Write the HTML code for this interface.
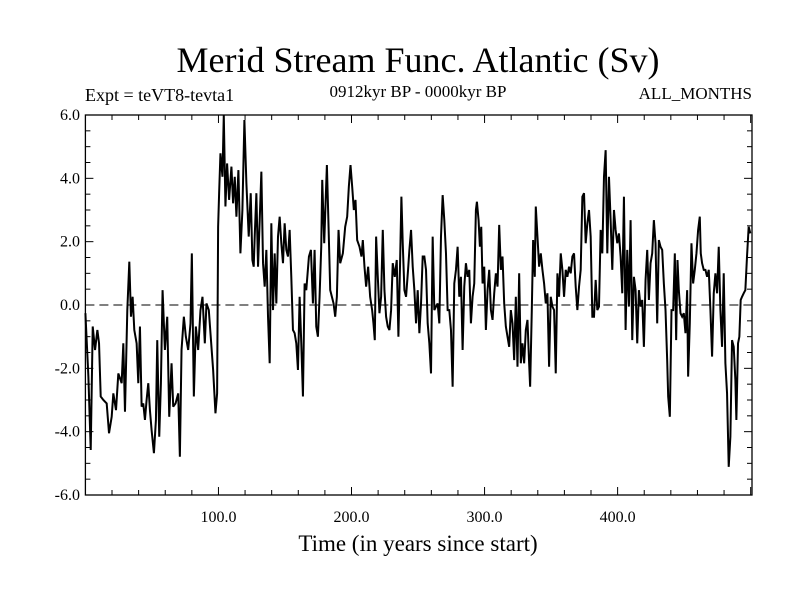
<!DOCTYPE html>
<html><head><meta charset="utf-8"><style>
body{margin:0;background:#fff;}
svg{display:block;font-family:"Liberation Serif","DejaVu Serif",serif;}
</style></head><body>
<svg id="chart" width="800" height="600" viewBox="0 0 800 600">
<rect width="800" height="600" fill="#fff"/>
<text x="418" y="72" font-size="36" text-anchor="middle">Merid Stream Func. Atlantic (Sv)</text>
<text x="85" y="101" font-size="18">Expt = teVT8-tevta1</text>
<text x="418" y="97" font-size="17" text-anchor="middle">0912kyr BP - 0000kyr BP</text>
<text x="752" y="99" font-size="17" text-anchor="end">ALL_MONTHS</text>
<text x="418" y="551" font-size="23" text-anchor="middle">Time (in years since start)</text>
<g id="axes"></g>
<g id="series"></g>
<rect x="85.4" y="115" width="666.6" height="380" fill="none" stroke="#000" stroke-width="1.3"/>
</svg>
<script>
const years=[0,2.25,4,5.5,7.25,9,10.25,11.5,13.5,16,17.75,19.75,21,23,24.75,27.25,28.5,29.75,31.5,33,34.25,35.5,36.75,38.5,39.75,41,42.25,43.5,44.75,46,47.25,48.5,49.75,51.5,53,54,55.5,56.75,58,59.75,61.5,63,64.75,66,67.75,69.75,71,72.25,74,75.5,77.25,79,80,81.5,83,84.75,86.5,88,89.75,91,92.75,94,96,97.75,99,99.75,100.5,101.5,103,104,105.25,106.5,108,109.75,111,112.25,113.5,115,116.5,118,119.5,121,122.75,124.25,125.5,126.5,
127.25,128.5,129.75,131,132.25,133.5,134.75,136,137.25,138.5,139.75,141,142.25,143.5,144.75,146,147.25,148.5,149.75,151,152.25,153.5,154.75,156,157.25,158.5,159.75,161,162.25,163.5,164.75,166,168,169.5,171,172.25,173.5,174.75,176,177.25,178,179.5,180.5,181.5,182.75,184,185.25,186.5,187.75,189,190.25,191.5,193.5,195.25,196.75,198,199.25,200.5,201.75,203,204.25,206,207.5,208.5,209.75,211,212.5,214,215.5,216.5,217.5,218.5,219.75,221,222.25,223.5,224.75,226,227.25,228.5,229.75,231,232.5,234,235.25,236.5,237.5,238.5,239.75,241,242.5,243.5,244.75,246,247.25,248.5,249.75,251,252.25,253.5,
254.75,256,257.25,258.5,259.75,261,262.25,263.5,264.75,266,267.25,268.5,269.75,271,272.25,273.5,274.75,276,277.25,278.5,279.75,281,282.25,283.5,284.75,286,287.25,288.5,289.75,291,292.25,293.5,294.25,295.5,296.5,297.5,298.5,299.75,301,302.25,303.5,304.75,306,307.25,308.5,309.75,311,312.25,313.5,314.75,316,317.25,318.5,319.75,321,322.25,323.5,324.75,326,327.25,328.5,329.75,331,332.25,333.5,334.25,335.5,336.5,337.75,338.5,339.75,341,342.25,343.5,344.75,346,347.25,348.5,349.75,351,352.25,353.5,354.75,356,357.25,358.5,359.75,361,362.25,363.5,364.75,366,367.25,368.5,369.75,371,372.25,373.5,374.75,376,377.25,378.5,379.75,381,
382.25,383.5,384.75,386,387.25,388.5,389.75,391,392.25,393.5,394.75,396,397.25,398.5,399.75,401,402.25,403.5,404.75,406,407.25,408.5,409.75,411,412.25,413.5,414.75,416,417.25,418.5,419.75,421,422.25,423.5,424.75,426,427.25,428.5,429.75,431,432.25,433.5,434.75,436,437.25,438,439.25,440.5,441.75,443,444,445,446,447.25,448.5,449.75,451,452.25,453,454.25,455.5,456.75,458,459.25,460.5,461.75,462.5,463.5,464.75,466,467.25,468.5,469.75,471,472.25,473.5,474.75,476,477.25,478.5,479.75,481,482.25,483.5,484.75,486,487.25,488.5,489.25,490.5,491.5,492.5,493.5,494.75,496,497.25,498.5,499.75];
const values=[-0.26,-2.26,-4.58,-0.68,-1.42,-0.79,-1.21,-2.89,-3.0,-3.11,-4.05,-3.53,-2.79,-3.32,-2.16,-2.47,-1.21,-3.37,-0.16,1.37,-0.37,0.26,-0.79,-1.21,-2.47,-0.68,-3.21,-3.11,-3.63,-3.0,-2.47,-3.32,-3.95,-4.68,-3.63,-1.11,-4.16,-2.47,0.47,-1.42,-0.37,-3.53,-1.84,-3.21,-3.11,-2.79,-4.79,-1.42,-0.37,-1.0,-1.42,-0.58,1.63,-2.89,-0.68,-1.42,-0.16,0.26,-1.21,0.05,-0.16,-0.89,-2.05,-3.42,-2.79,2.47,3.53,4.79,4.05,6.0,3.11,4.47,3.32,4.37,3.21,4.05,2.79,4.26,1.63,3.0,5.84,3.84,2.16,3.53,1.42,1.21,
2.16,3.53,1.21,2.68,4.21,1.32,0.58,1.74,-0.37,-1.84,2.58,-0.16,1.63,0.05,2.16,2.79,1.95,1.32,2.58,1.74,1.53,2.37,0.89,-0.79,-0.89,-1.21,-2.05,0.26,-1.21,-2.89,0.68,0.47,1.53,1.74,0.05,1.74,-0.68,-1.0,0.26,1.84,3.95,1.95,3.21,4.42,2.47,0.47,0.26,0.05,-0.37,0.26,2.37,1.32,1.63,2.47,2.79,3.74,4.42,3.74,3.0,3.32,2.05,1.84,1.53,2.05,1.21,0.58,1.21,0.26,-0.16,-0.58,-1.11,2.16,0.89,-0.26,0.26,2.37,0.47,-0.37,-0.68,-0.79,-0.16,1.32,0.89,1.42,-1.0,1.32,3.42,1.95,0.47,0.26,1.11,1.74,2.37,1.21,0.47,-0.58,0.47,-0.89,0.05,1.53,
1.53,1.11,-0.58,-1.21,-2.16,2.16,-0.16,-0.05,0.05,-0.58,2.16,3.47,2.68,1.63,-0.16,-0.16,-0.79,-2.58,0.68,1.11,1.84,0.26,0.89,-1.42,0.58,1.32,0.89,1.11,-0.58,0.26,0.68,3.0,3.26,2.68,1.84,2.47,0.68,1.21,-0.79,0.47,1.11,-0.16,-0.47,0.37,1.0,0.58,2.53,1.11,1.53,0.05,-0.68,-1.0,-1.32,-0.16,-0.58,-1.74,0.26,-1.95,1.0,-1.84,-1.21,-1.84,-0.79,-0.47,-1.84,-2.58,-0.16,2.05,0.89,3.11,2.16,1.21,1.63,1.11,0.68,0.05,0.37,-1.95,0.26,-0.05,-0.16,-2.16,1.0,0.26,1.63,1.11,0.26,1.11,0.89,1.21,1.0,1.53,1.63,0.58,-0.16,0.58,1.11,3.42,3.53,1.95,2.58,3.0,2.16,-0.37,
-0.37,0.79,-0.16,-0.05,2.37,1.63,4.05,4.89,1.63,4.05,2.68,1.11,3.0,2.37,1.95,2.26,1.53,0.37,3.42,-0.79,1.74,-0.05,2.68,-1.11,0.89,0.47,-1.21,0.47,-0.05,0.16,-1.32,0.79,1.74,0.16,1.32,1.63,2.68,1.95,-0.58,2.05,1.84,1.74,0.68,-0.16,-1.74,-2.89,-3.53,-0.16,-0.16,1.63,-1.11,1.42,0.47,-0.26,-0.37,-0.26,-0.89,0.47,-2.26,-0.58,1.95,0.68,1.11,1.63,2.37,2.79,1.63,1.32,1.11,1.11,0.89,1.11,-0.16,-1.63,0.37,1.0,0.37,1.84,-0.16,-1.32,1.0,-1.84,-2.79,-5.11,-4.16,-1.11,-1.32,-2.37,-3.63,-1.21,-1.0,0.16,0.26,0.37,0.47,1.53,2.47,2.26];
const yTickValues=[-6,-4,-2,0,2,4,6];
const yTickLabels=["-6.0","-4.0","-2.0","0.0","2.0","4.0","6.0"];
const xTickValues=[100,200,300,400];
const xTickLabels=["100.0","200.0","300.0","400.0"];

const L=85.4,R=752,T=115,B=495,XMAX=501,YMIN=-6,YMAX=6;
const xs=v=>L+(v/XMAX)*(R-L);
const ys=v=>B-(v-YMIN)/(YMAX-YMIN)*(B-T);
const NS="http://www.w3.org/2000/svg";
const axes=document.getElementById('axes');
function mk(tag,attrs,parent){const e=document.createElementNS(NS,tag);for(const k in attrs)e.setAttribute(k,attrs[k]);parent.appendChild(e);return e;}
for(let v=YMIN;v<=YMAX+1e-9;v+=0.5){
  const major=Math.abs(v/2-Math.round(v/2))<1e-9;
  const len=major?8:5;
  const t1=mk('line',{x1:L,x2:L+len,y1:ys(v),y2:ys(v),stroke:'#000','stroke-width':1},axes);
  
  
  const t2=mk('line',{x1:R-len,x2:R,y1:ys(v),y2:ys(v),stroke:'#000','stroke-width':1},axes);
  
  
}
for(let v=20;v<XMAX;v+=20){
  const major=v%100===0;
  const len=major?8:5;
  const t1=mk('line',{x1:xs(v),x2:xs(v),y1:B,y2:B-len,stroke:'#000','stroke-width':1},axes);
  
  
  const t2=mk('line',{x1:xs(v),x2:xs(v),y1:T,y2:T+len,stroke:'#000','stroke-width':1},axes);
  
  
}
yTickValues.forEach((v,i)=>{
  const t=mk('text',{x:80,y:ys(v)+5,'font-size':16,'text-anchor':'end'},axes);
  t.textContent=yTickLabels[i];
  
  
});
xTickValues.forEach((v,i)=>{
  const t=mk('text',{x:xs(v),y:522,'font-size':16,'text-anchor':'middle'},axes);
  t.textContent=xTickLabels[i];
  
  
});
const zl=mk('line',{x1:L,x2:R,y1:ys(0),y2:ys(0),stroke:'#000','stroke-width':1,'stroke-dasharray':'9,5'},axes);


const series=document.getElementById('series');
const pts=years.map((y,i)=>xs(y).toFixed(2)+','+ys(values[i]).toFixed(2)).join(' ');
const pl=mk('polyline',{points:pts,fill:'none',stroke:'#000','stroke-width':2,'stroke-linejoin':'miter','stroke-miterlimit':3},series);


</script>
</body></html>
